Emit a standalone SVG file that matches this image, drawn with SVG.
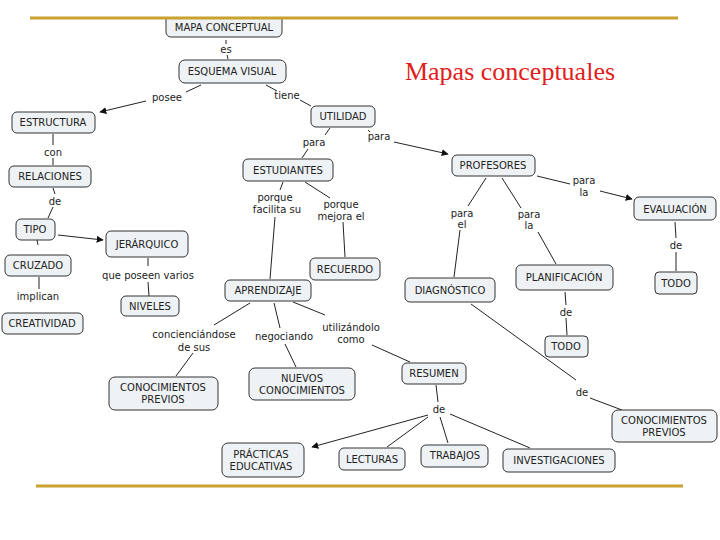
<svg xmlns="http://www.w3.org/2000/svg" width="720" height="540" viewBox="0 0 720 540">
<style>
.n rect{fill:#eef2f5;stroke:#333;stroke-width:1}
text{font-family:"DejaVu Sans","Liberation Sans",sans-serif;font-size:10px;fill:#222;text-anchor:middle}
.c line,.c path{stroke:#222;stroke-width:1;fill:none}
.a{marker-end:url(#ar)}
</style>
<defs><marker id="ar" viewBox="0 0 10 10" refX="9" refY="5" markerWidth="7" markerHeight="7" orient="auto" markerUnits="userSpaceOnUse"><path d="M0,0L10,5L0,10z" fill="#111"/></marker></defs>
<rect width="720" height="540" fill="#fff"/>
<g class="c">
<line x1="226" y1="40" x2="226" y2="44"/><line x1="227" y1="55" x2="228" y2="59"/>
<line x1="201" y1="85" x2="186" y2="92"/><path class="a" d="M146,101 L100,112"/>
<line x1="266" y1="85" x2="277" y2="91"/><line x1="300" y1="100" x2="311" y2="106"/>
<line x1="53" y1="134" x2="53" y2="145"/><line x1="53" y1="158" x2="53" y2="165"/>
<line x1="53" y1="188" x2="55" y2="194"/><line x1="53" y1="207" x2="48" y2="218"/>
<line x1="37" y1="240" x2="38" y2="245"/>
<path class="a" d="M58,235 L103,240"/>
<line x1="148" y1="258" x2="148" y2="266"/><line x1="148" y1="282" x2="149" y2="296"/>
<line x1="39" y1="277" x2="39" y2="289"/>
<line x1="330" y1="128" x2="325" y2="135"/><line x1="308" y1="149" x2="302" y2="158"/>
<line x1="368" y1="130" x2="370" y2="132"/><path class="a" d="M394,142 L448,154"/>
<line x1="283" y1="182" x2="280" y2="190"/><line x1="275" y1="217" x2="270" y2="279"/>
<line x1="305" y1="182" x2="330" y2="198"/><line x1="343" y1="222" x2="345" y2="257"/>
<line x1="537" y1="176" x2="570" y2="184"/><path class="a" d="M600,191 L632,199"/>
<line x1="675" y1="222" x2="676" y2="238"/><line x1="676" y1="252" x2="676" y2="271"/>
<line x1="486" y1="178" x2="468" y2="206"/><line x1="460" y1="230" x2="454" y2="277"/>
<line x1="502" y1="178" x2="521" y2="208"/><line x1="538" y1="232" x2="556" y2="264"/>
<line x1="565" y1="292" x2="566" y2="305"/><line x1="566" y1="318" x2="567" y2="335"/>
<line x1="471" y1="304" x2="576" y2="380"/><line x1="590" y1="398" x2="622" y2="410"/>
<line x1="250" y1="303" x2="214" y2="325"/><line x1="193" y1="353" x2="176" y2="376"/>
<line x1="274" y1="303" x2="280" y2="328"/><line x1="285" y1="344" x2="296" y2="367"/>
<line x1="293" y1="302" x2="325" y2="315"/><line x1="372" y1="345" x2="410" y2="362"/>
<line x1="436" y1="385" x2="438" y2="402"/>
<path class="a" d="M428,415 L312,447"/>
<line x1="428" y1="417" x2="387" y2="447"/><line x1="440" y1="417" x2="448" y2="443"/>
<line x1="450" y1="414" x2="530" y2="448"/>
</g>
<line x1="36" y1="486" x2="683" y2="486" stroke="#c9a230" stroke-width="3"/>
<g id="mapa" class="n"><rect x="166" y="14" width="116" height="23" rx="5"/><text x="224" y="31">MAPA CONCEPTUAL</text></g>
<rect x="150" y="10" width="150" height="7" fill="#fff"/>
<line x1="30" y1="18" x2="678" y2="18" stroke="#c9a230" stroke-width="3"/>
<text x="510" y="80" style="font-family:'Liberation Serif',serif;font-size:26px;fill:#e0201c">Mapas conceptuales</text>
<g id="esquema" class="n"><rect x="179" y="60" width="107" height="23" rx="6"/><text x="232" y="75">ESQUEMA VISUAL</text></g>
<g id="estructura" class="n"><rect x="12" y="112" width="83" height="21" rx="5"/><text x="53" y="126">ESTRUCTURA</text></g>
<g id="relaciones" class="n"><rect x="9" y="166" width="82" height="21" rx="5"/><text x="50" y="180">RELACIONES</text></g>
<g id="tipo" class="n"><rect x="16" y="219" width="39" height="21" rx="5"/><text x="35" y="233">TIPO</text></g>
<g id="jerarquico" class="n"><rect x="106" y="231" width="82" height="26" rx="5"/><text x="147" y="248">JERÁRQUICO</text></g>
<g id="cruzado" class="n"><rect x="5" y="255" width="66" height="21" rx="5"/><text x="38" y="269">CRUZADO</text></g>
<g id="creatividad" class="n"><rect x="2" y="313" width="81" height="21" rx="5"/><text x="42" y="327">CREATIVIDAD</text></g>
<g id="niveles" class="n"><rect x="121" y="296" width="58" height="20" rx="5"/><text x="150" y="310">NIVELES</text></g>
<g id="utilidad" class="n"><rect x="311" y="106" width="64" height="21" rx="5"/><text x="343" y="120">UTILIDAD</text></g>
<g id="estudiantes" class="n"><rect x="243" y="159" width="90" height="22" rx="5"/><text x="288" y="174">ESTUDIANTES</text></g>
<g id="profesores" class="n"><rect x="452" y="155" width="83" height="21" rx="5"/><text x="493" y="169">PROFESORES</text></g>
<g id="recuerdo" class="n"><rect x="310" y="258" width="70" height="22" rx="5"/><text x="345" y="273">RECUERDO</text></g>
<g id="aprendizaje" class="n"><rect x="225" y="280" width="86" height="21" rx="5"/><text x="268" y="294">APRENDIZAJE</text></g>
<g id="evaluacion" class="n"><rect x="634" y="197" width="82" height="23" rx="5"/><text x="675" y="213">EVALUACIÓN</text></g>
<g id="todo1" class="n"><rect x="655" y="272" width="42" height="22" rx="4"/><text x="676" y="287">TODO</text></g>
<g id="diagnostico" class="n"><rect x="405" y="278" width="90" height="24" rx="5"/><text x="450" y="294">DIAGNÓSTICO</text></g>
<g id="planificacion" class="n"><rect x="516" y="265" width="97" height="25" rx="5"/><text x="564" y="281">PLANIFICACIÓN</text></g>
<g id="todo2" class="n"><rect x="545" y="336" width="43" height="21" rx="4"/><text x="566" y="350">TODO</text></g>
<g id="previos1" class="n"><rect x="109" y="377" width="109" height="33" rx="6"/><text x="163" y="391">CONOCIMIENTOS</text><text x="163" y="403">PREVIOS</text></g>
<g id="nuevos" class="n"><rect x="249" y="368" width="106" height="32" rx="6"/><text x="302" y="382">NUEVOS</text><text x="302" y="394">CONOCIMIENTOS</text></g>
<g id="resumen" class="n"><rect x="402" y="363" width="64" height="21" rx="5"/><text x="434" y="377">RESUMEN</text></g>
<g id="previos2" class="n"><rect x="612" y="410" width="105" height="32" rx="6"/><text x="664" y="424">CONOCIMIENTOS</text><text x="664" y="436">PREVIOS</text></g>
<g id="practicas" class="n"><rect x="222" y="443" width="82" height="34" rx="6"/><text x="261" y="458">PRÁCTICAS</text><text x="261" y="470">EDUCATIVAS</text></g>
<g id="lecturas" class="n"><rect x="339" y="448" width="66" height="22" rx="5"/><text x="372" y="463">LECTURAS</text></g>
<g id="trabajos" class="n"><rect x="421" y="445" width="67" height="22" rx="5"/><text x="455" y="459">TRABAJOS</text></g>
<g id="investigaciones" class="n"><rect x="503" y="449" width="112" height="23" rx="5"/><text x="559" y="464">INVESTIGACIONES</text></g>
<g id="labels">
<text x="226" y="53">es</text><text x="167" y="101">posee</text><text x="287" y="99">tiene</text>
<text x="53" y="156">con</text><text x="55" y="205">de</text><text x="38" y="300">implican</text>
<text x="148" y="279">que poseen varios</text>
<text x="314" y="146">para</text><text x="379" y="140">para</text>
<text x="275" y="201">porque</text><text x="277" y="213">facilita su</text>
<text x="341" y="208">porque</text><text x="341" y="220">mejora el</text>
<text x="584" y="184">para</text><text x="584" y="196">la</text><text x="676" y="249">de</text>
<text x="462" y="217">para</text><text x="462" y="228">el</text>
<text x="529" y="218">para</text><text x="529" y="229">la</text>
<text x="566" y="316">de</text><text x="582" y="396">de</text>
<text x="194" y="338">concienciándose</text><text x="194" y="351">de sus</text>
<text x="284" y="340">negociando</text>
<text x="351" y="331">utilizándolo</text><text x="351" y="343">como</text>
<text x="439" y="413">de</text>
</g>
</svg>
